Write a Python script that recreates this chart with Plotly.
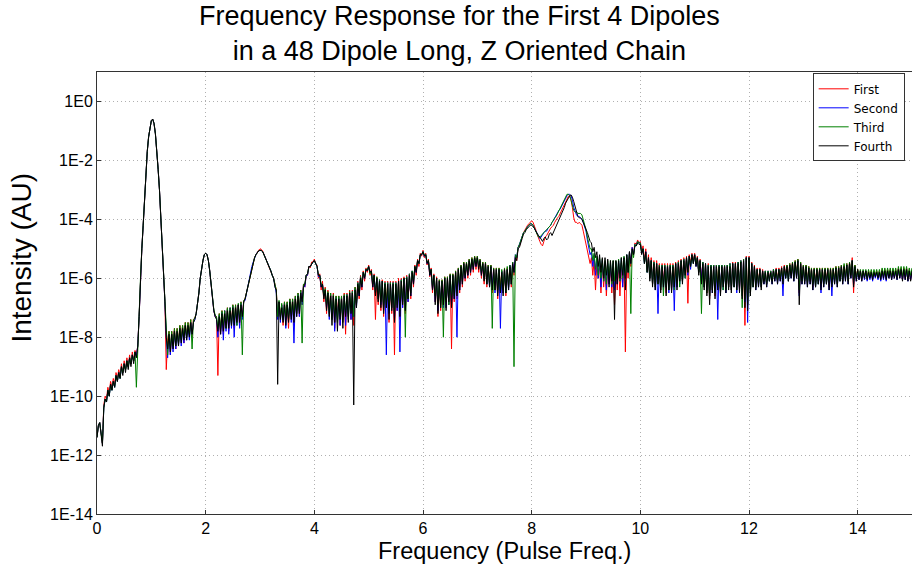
import numpy as np
import plotly.graph_objects as go

# Frequency axis (units of the pulse frequency), sampled every 0.025
freq = np.round(np.arange(0, 15.0001, 0.025), 3)

# log10 intensity for each of the first four dipoles (one line per unit of frequency)
first_log10 = [
    -11.4, -11.0, -10.9, -11.2, -11.6, -10.3, -10.0, -10.1, -9.7, -9.9, -9.5, -9.7, -9.4, -9.6, -9.2, -9.4, -9.1, -9.3, -8.9, -9.2, -8.8, -9.1, -8.7, -9.0, -8.6, -8.9, -8.5, -8.8, -8.45, -8.6, -8.3, -7.3, -6.0, -5.0, -4.2, -3.2, -2.3, -1.7, -1.2, -0.85,
    -0.65, -0.6, -0.75, -1.1, -1.6, -2.3, -3.0, -3.9, -4.8, -5.8, -6.8, -9.1, -8.1, -7.8, -8.6, -7.8, -8.3, -7.7, -8.4, -7.7, -8.2, -7.6, -8.0, -7.6, -8.2, -7.5, -8.0, -7.5, -7.9, -7.4, -8.0, -7.4, -7.35, -7.2, -6.9, -6.5, -6.0, -5.65, -5.4, -5.2,
    -5.15, -5.2, -5.4, -5.75, -6.2, -6.7, -7.1, -7.3, -7.3, -9.3, -7.2, -7.8, -7.1, -7.9, -7.1, -7.6, -7.0, -7.8, -7.0, -7.5, -6.9, -7.7, -6.9, -7.4, -6.9, -7.6, -6.8, -7.3, -6.8, -6.7, -6.5, -6.3, -6.1, -5.85, -5.6, -5.45, -5.3, -5.2, -5.1, -5.05,
    -5.0, -5.02, -5.08, -5.18, -5.3, -5.42, -5.55, -5.65, -5.75, -5.9, -6.0, -6.2, -6.4, -7.3, -6.8, -7.3, -6.9, -7.6, -6.8, -7.4, -6.8, -7.7, -6.7, -7.3, -6.7, -7.6, -6.6, -7.2, -6.5, -7.3, -6.4, -6.9, -6.2, -6.3, -5.9, -5.9, -5.6, -5.65, -5.45, -5.45,
    -5.35, -5.5, -5.55, -6.0, -5.85, -6.4, -6.1, -6.8, -6.3, -7.2, -6.4, -7.0, -6.5, -7.3, -6.5, -7.7, -6.6, -7.2, -6.6, -7.6, -6.6, -7.3, -6.5, -7.9, -6.5, -7.2, -6.4, -7.4, -6.4, -7.6, -6.3, -6.9, -6.1, -6.7, -5.9, -6.4, -5.75, -6.1, -5.65, -5.8,
    -5.55, -5.9, -5.7, -6.4, -5.85, -7.4, -5.95, -6.9, -6.05, -7.1, -6.05, -7.3, -6.1, -7.0, -6.1, -7.5, -6.1, -7.2, -6.1, -8.6, -6.1, -7.1, -6.0, -7.4, -6.0, -7.0, -5.95, -7.2, -5.9, -6.8, -5.85, -6.7, -5.75, -6.3, -5.55, -5.9, -5.35, -5.6, -5.15, -5.25,
    -5.05, -5.3, -5.15, -5.55, -5.35, -5.95, -5.65, -6.5, -5.85, -6.8, -5.95, -7.3, -6.05, -7.1, -6.05, -6.9, -5.95, -7.0, -5.95, -6.9, -5.85, -8.4, -5.85, -6.8, -5.75, -6.7, -5.65, -6.5, -5.55, -6.3, -5.45, -6.1, -5.45, -6.0, -5.35, -5.9, -5.3, -5.8, -5.25, -5.7,
    -5.25, -5.8, -5.35, -6.0, -5.45, -6.2, -5.45, -6.3, -5.55, -6.2, -5.55, -6.5, -5.65, -6.3, -5.65, -6.7, -5.65, -6.4, -5.75, -6.5, -5.65, -6.6, -5.65, -6.3, -5.55, -6.3, -5.45, -5.9, -5.25, -5.4, -4.95, -4.9, -4.7, -4.6, -4.45, -4.35, -4.25, -4.2, -4.15, -4.1,
    -4.05, -4.1, -4.2, -4.35, -4.5, -4.65, -4.75, -4.85, -4.9, -4.75, -4.6, -4.55, -4.45, -4.35, -4.3, -4.25, -4.2, -4.1, -4.0, -3.95, -3.9, -3.8, -3.7, -3.6, -3.5, -3.4, -3.3, -3.22, -3.2, -3.35, -3.6, -3.95, -4.1, -4.1, -4.15, -4.1, -4.15, -4.2, -4.4, -4.6,
    -4.8, -5.0, -5.2, -5.5, -5.3, -5.9, -5.4, -6.4, -5.5, -6.0, -5.5, -6.5, -5.5, -6.3, -5.6, -6.6, -5.6, -6.2, -5.6, -6.5, -5.6, -6.9, -5.6, -6.4, -5.5, -6.6, -5.5, -6.3, -5.4, -8.5, -5.3, -6.0, -5.1, -5.6, -4.95, -5.2, -4.8, -4.85, -4.7, -4.8,
    -4.75, -5.1, -4.9, -5.4, -5.0, -5.7, -5.2, -6.0, -5.3, -6.2, -5.4, -6.3, -5.4, -6.1, -5.5, -6.4, -5.5, -6.2, -5.5, -6.5, -5.5, -6.3, -5.5, -6.4, -5.5, -6.2, -5.45, -6.3, -5.4, -6.0, -5.35, -6.1, -5.3, -5.8, -5.25, -6.85, -5.2, -5.5, -5.15, -5.4,
    -5.15, -5.5, -5.25, -5.8, -5.35, -6.1, -5.45, -6.3, -5.5, -6.5, -5.5, -6.7, -5.55, -6.4, -5.55, -6.6, -5.55, -6.3, -5.55, -6.5, -5.55, -6.2, -5.55, -6.4, -5.55, -6.3, -5.5, -6.4, -5.45, -6.2, -5.45, -6.3, -5.45, -6.4, -5.4, -6.6, -5.35, -7.6, -5.25, -6.9,
    -5.25, -6.5, -5.45, -6.2, -5.55, -6.3, -5.65, -6.2, -5.65, -6.3, -5.7, -6.1, -5.75, -6.2, -5.75, -6.0, -5.75, -6.1, -5.7, -6.0, -5.65, -6.1, -5.65, -6.0, -5.6, -6.1, -5.55, -5.9, -5.55, -6.0, -5.5, -5.9, -5.45, -6.0, -5.4, -5.9, -5.35, -6.5, -5.45, -6.1,
    -5.55, -6.1, -5.55, -6.2, -5.6, -6.1, -5.65, -6.3, -5.65, -6.2, -5.65, -6.1, -5.65, -6.3, -5.65, -6.2, -5.65, -6.1, -5.65, -6.3, -5.65, -6.2, -5.65, -6.1, -5.6, -6.2, -5.6, -6.0, -5.55, -6.1, -5.55, -6.0, -5.5, -6.1, -5.45, -5.9, -5.3, -6.5, -5.55, -6.0,
    -5.7, -6.0, -5.75, -6.05, -5.75, -5.95, -5.75, -6.0, -5.75, -5.95, -5.75, -6.0, -5.75, -5.9, -5.75, -5.95, -5.75, -6.0, -5.7, -5.95, -5.7, -6.0, -5.7, -5.95, -5.7, -6.0, -5.7, -5.95, -5.7, -6.0, -5.65, -5.95, -5.65, -6.05, -5.65, -6.0, -5.65, -6.05, -5.7, -6.05,
    -5.7,
]

second_log10 = [
    -11.4, -11.0, -10.9, -11.3, -11.6, -10.4, -10.1, -10.2, -9.8, -10.0, -9.6, -9.8, -9.5, -9.7, -9.3, -9.5, -9.2, -9.4, -9.0, -9.2, -8.9, -9.1, -8.8, -9.0, -8.7, -8.9, -8.6, -8.8, -8.5, -8.65, -8.3, -7.3, -6.0, -5.0, -4.2, -3.2, -2.3, -1.7, -1.2, -0.85,
    -0.65, -0.6, -0.75, -1.1, -1.6, -2.3, -3.0, -3.9, -4.8, -5.8, -6.8, -8.0, -8.7, -7.9, -8.6, -7.9, -8.5, -7.8, -8.4, -7.8, -8.3, -7.7, -8.3, -7.7, -8.2, -7.6, -8.1, -7.6, -8.1, -7.5, -7.9, -7.5, -7.4, -7.2, -6.9, -6.5, -6.0, -5.65, -5.4, -5.2,
    -5.15, -5.2, -5.4, -5.75, -6.2, -6.7, -7.1, -7.3, -7.35, -8.0, -7.25, -7.9, -7.15, -8.1, -7.1, -7.8, -7.05, -7.9, -7.0, -7.7, -6.95, -8.0, -6.95, -7.6, -6.9, -7.7, -6.85, -7.4, -6.8, -6.75, -6.5, -6.3, -6.1, -5.85, -5.6, -5.45, -5.3, -5.2, -5.12, -5.07,
    -5.05, -5.06, -5.1, -5.2, -5.3, -5.42, -5.55, -5.65, -5.75, -5.9, -6.0, -6.25, -6.5, -7.4, -6.8, -7.5, -6.9, -7.4, -6.85, -7.7, -6.85, -7.4, -6.75, -7.5, -6.75, -8.2, -6.65, -7.3, -6.55, -7.3, -6.45, -6.9, -6.25, -6.3, -5.9, -5.9, -5.6, -5.6, -5.5, -5.45,
    -5.4, -5.5, -5.6, -5.95, -5.9, -6.3, -6.2, -6.6, -6.4, -7.0, -6.5, -7.4, -6.55, -7.4, -6.6, -7.8, -6.65, -7.4, -6.65, -7.6, -6.65, -7.4, -6.6, -7.6, -6.55, -7.3, -6.5, -7.4, -6.45, -7.3, -6.35, -7.0, -6.15, -6.6, -5.95, -6.3, -5.8, -6.0, -5.7, -5.75,
    -5.6, -5.8, -5.75, -6.3, -5.9, -6.5, -6.0, -6.7, -6.05, -6.9, -6.1, -7.1, -6.15, -8.6, -6.15, -7.2, -6.15, -7.0, -6.15, -7.4, -6.15, -7.1, -6.1, -8.5, -6.05, -7.0, -6.0, -7.0, -5.95, -6.8, -5.85, -6.6, -5.75, -6.2, -5.6, -5.8, -5.4, -5.5, -5.2, -5.2,
    -5.1, -5.25, -5.2, -5.5, -5.4, -5.9, -5.7, -6.4, -5.9, -6.8, -6.0, -7.1, -6.1, -6.9, -6.1, -7.0, -6.0, -7.0, -6.0, -6.9, -5.9, -6.9, -5.9, -6.7, -5.8, -8.0, -5.7, -6.4, -5.6, -6.2, -5.5, -6.0, -5.5, -5.9, -5.4, -5.8, -5.35, -5.7, -5.3, -5.6,
    -5.3, -5.6, -5.4, -5.9, -5.5, -6.0, -5.5, -6.2, -5.6, -6.3, -5.6, -6.3, -5.7, -6.5, -5.7, -6.5, -5.7, -7.7, -5.75, -6.5, -5.7, -6.4, -5.7, -6.4, -5.55, -6.2, -5.45, -5.8, -5.2, -5.3, -4.95, -4.85, -4.7, -4.6, -4.45, -4.4, -4.3, -4.25, -4.2, -4.15,
    -4.15, -4.2, -4.3, -4.4, -4.5, -4.6, -4.65, -4.6, -4.5, -4.45, -4.4, -4.4, -4.3, -4.25, -4.2, -4.1, -4.05, -3.95, -3.85, -3.8, -3.7, -3.65, -3.55, -3.45, -3.35, -3.25, -3.2, -3.15, -3.15, -3.2, -3.35, -3.6, -3.75, -3.85, -3.9, -3.9, -3.95, -4.0, -4.1, -4.25,
    -4.4, -4.7, -4.9, -5.2, -5.1, -5.6, -5.2, -5.9, -5.3, -6.0, -5.35, -6.3, -5.4, -6.1, -5.45, -6.4, -5.5, -6.2, -5.5, -6.3, -5.5, -6.4, -5.45, -6.2, -5.4, -6.1, -5.35, -6.3, -5.3, -6.0, -5.2, -5.8, -5.1, -5.5, -4.95, -5.2, -4.85, -4.9, -4.75, -4.8,
    -4.8, -5.15, -5.0, -5.5, -5.1, -5.8, -5.3, -6.0, -5.4, -6.2, -5.45, -6.4, -5.5, -7.2, -5.55, -6.3, -5.55, -6.4, -5.55, -6.3, -5.55, -6.5, -5.55, -6.4, -5.55, -7.1, -5.5, -6.3, -5.45, -6.2, -5.4, -6.1, -5.35, -6.0, -5.3, -5.9, -5.25, -5.7, -5.2, -5.5,
    -5.2, -5.6, -5.3, -5.8, -5.4, -6.1, -5.45, -6.3, -5.5, -6.4, -5.55, -6.6, -5.55, -6.5, -5.55, -6.5, -5.55, -7.4, -5.55, -6.4, -5.55, -6.4, -5.55, -6.5, -5.55, -6.3, -5.5, -6.4, -5.5, -6.3, -5.5, -6.5, -5.45, -6.4, -5.4, -6.6, -5.35, -6.8, -5.3, -7.5,
    -5.3, -6.5, -5.5, -6.3, -5.6, -6.4, -5.7, -6.3, -5.7, -6.3, -5.75, -6.2, -5.75, -6.3, -5.75, -6.1, -5.75, -6.2, -5.7, -6.1, -5.7, -6.2, -5.7, -6.1, -5.65, -6.6, -5.6, -6.0, -5.6, -6.1, -5.55, -6.0, -5.5, -6.1, -5.45, -6.0, -5.4, -6.6, -5.5, -6.2,
    -5.6, -6.2, -5.6, -6.3, -5.65, -6.2, -5.7, -6.4, -5.7, -6.3, -5.7, -6.2, -5.7, -6.5, -5.7, -6.3, -5.7, -6.2, -5.7, -6.4, -5.7, -6.6, -5.7, -6.2, -5.65, -6.3, -5.65, -6.1, -5.6, -6.2, -5.6, -6.1, -5.55, -6.2, -5.5, -6.0, -5.4, -6.2, -5.6, -6.1,
    -5.75, -6.05, -5.75, -6.1, -5.75, -6.05, -5.75, -6.1, -5.8, -6.05, -5.8, -6.1, -5.8, -6.0, -5.8, -6.05, -5.8, -6.1, -5.75, -6.05, -5.75, -6.1, -5.75, -6.0, -5.75, -6.05, -5.75, -6.0, -5.75, -6.05, -5.7, -6.0, -5.7, -6.05, -5.7, -6.05, -5.7, -6.1, -5.75, -6.05,
    -5.75,
]

third_log10 = [
    -11.4, -11.0, -10.9, -11.3, -11.6, -10.4, -10.1, -10.2, -9.8, -10.0, -9.6, -9.8, -9.5, -9.7, -9.3, -9.5, -9.2, -9.4, -9.0, -9.2, -8.9, -9.1, -8.8, -9.0, -8.7, -8.9, -8.6, -8.8, -8.5, -9.7, -8.3, -7.3, -6.0, -5.0, -4.2, -3.2, -2.3, -1.7, -1.2, -0.85,
    -0.65, -0.6, -0.75, -1.1, -1.6, -2.3, -3.0, -3.9, -4.8, -5.8, -6.8, -7.9, -8.6, -7.8, -8.4, -7.8, -8.3, -7.7, -8.3, -7.7, -8.2, -7.6, -8.1, -7.6, -8.0, -7.5, -8.0, -7.5, -7.9, -7.4, -8.4, -7.4, -7.35, -7.2, -6.9, -6.5, -6.0, -5.65, -5.4, -5.2,
    -5.15, -5.2, -5.4, -5.75, -6.2, -6.7, -7.05, -7.25, -7.3, -7.7, -7.2, -7.7, -7.1, -7.6, -7.1, -7.7, -7.0, -7.5, -7.0, -7.6, -6.9, -7.5, -6.9, -7.6, -6.85, -7.4, -6.8, -8.6, -6.75, -6.7, -6.5, -6.3, -6.1, -5.85, -5.6, -5.45, -5.3, -5.2, -5.12, -5.07,
    -5.05, -5.06, -5.1, -5.2, -5.3, -5.42, -5.55, -5.65, -5.75, -5.9, -6.0, -6.2, -6.4, -7.3, -6.75, -7.3, -6.85, -7.4, -6.8, -7.3, -6.8, -7.4, -6.7, -7.2, -6.7, -7.3, -6.6, -7.2, -6.5, -7.1, -6.4, -8.2, -6.2, -6.2, -5.9, -5.85, -5.6, -5.6, -5.5, -5.45,
    -5.4, -5.5, -5.6, -5.9, -5.9, -6.2, -6.2, -6.6, -6.35, -6.9, -6.45, -7.2, -6.5, -7.4, -6.55, -7.3, -6.6, -7.5, -6.6, -7.2, -6.6, -7.5, -6.55, -7.2, -6.55, -7.4, -6.45, -7.1, -6.45, -7.3, -6.3, -6.9, -6.15, -6.5, -5.95, -6.2, -5.8, -5.95, -5.7, -5.7,
    -5.6, -5.85, -5.75, -6.2, -5.9, -6.5, -5.95, -6.7, -6.05, -6.8, -6.1, -7.0, -6.15, -6.9, -6.15, -7.1, -6.15, -7.0, -6.15, -7.2, -6.15, -6.9, -6.1, -7.1, -6.05, -6.8, -6.0, -8.0, -5.95, -6.7, -5.85, -6.5, -5.75, -6.1, -5.6, -5.7, -5.4, -5.5, -5.2, -5.2,
    -5.1, -5.2, -5.2, -5.45, -5.4, -5.8, -5.7, -6.3, -5.9, -6.6, -6.0, -6.9, -6.05, -7.0, -6.05, -8.0, -5.95, -6.8, -5.95, -6.9, -5.85, -6.7, -5.85, -6.6, -5.75, -6.5, -5.65, -6.3, -5.55, -6.1, -5.45, -5.9, -5.45, -5.8, -5.35, -5.7, -5.3, -5.6, -5.25, -5.5,
    -5.25, -5.6, -5.35, -5.8, -5.45, -6.0, -5.45, -6.2, -5.55, -6.2, -5.55, -7.7, -5.65, -6.4, -5.65, -6.4, -5.65, -6.5, -5.7, -6.4, -5.65, -6.5, -5.6, -6.3, -5.55, -6.2, -5.45, -9.0, -5.2, -5.3, -4.95, -4.85, -4.7, -4.6, -4.45, -4.4, -4.3, -4.25, -4.2, -4.15,
    -4.15, -4.2, -4.3, -4.4, -4.5, -4.6, -4.6, -4.55, -4.5, -4.45, -4.4, -4.35, -4.3, -4.25, -4.2, -4.1, -4.0, -3.95, -3.9, -3.8, -3.7, -3.6, -3.5, -3.4, -3.3, -3.2, -3.15, -3.15, -3.2, -3.35, -3.55, -3.7, -3.75, -3.75, -3.8, -3.8, -3.8, -3.85, -4.0, -4.2,
    -4.35, -4.6, -4.8, -5.0, -5.0, -5.4, -5.15, -5.7, -5.25, -5.9, -5.3, -6.0, -5.35, -6.1, -5.4, -6.2, -5.4, -6.0, -5.4, -6.2, -5.4, -6.1, -5.4, -6.0, -5.35, -6.1, -5.3, -6.0, -5.25, -5.9, -5.2, -5.8, -5.1, -7.2, -5.0, -5.3, -4.85, -4.9, -4.75, -4.8,
    -4.8, -5.1, -5.0, -5.5, -5.15, -5.8, -5.3, -6.0, -5.4, -6.2, -5.45, -6.3, -5.5, -6.2, -5.55, -6.4, -5.55, -6.6, -5.55, -6.3, -5.55, -6.4, -5.55, -6.3, -5.55, -6.4, -5.5, -6.2, -5.45, -6.3, -5.4, -6.1, -5.35, -6.0, -5.3, -5.8, -5.25, -5.6, -5.2, -5.5,
    -5.2, -5.5, -5.3, -5.8, -5.4, -7.2, -5.45, -6.3, -5.5, -6.5, -5.55, -6.6, -5.55, -6.4, -5.55, -6.5, -5.55, -6.3, -5.55, -6.5, -5.55, -6.4, -5.55, -6.4, -5.55, -6.3, -5.5, -6.4, -5.5, -6.3, -5.5, -6.4, -5.45, -6.3, -5.4, -7.0, -5.35, -6.7, -5.3, -6.9,
    -5.3, -6.6, -5.5, -6.3, -5.6, -6.3, -5.7, -6.2, -5.7, -6.3, -5.75, -6.1, -5.75, -6.2, -5.75, -6.1, -5.75, -6.1, -5.7, -6.0, -5.7, -6.1, -5.7, -6.0, -5.65, -6.1, -5.6, -6.0, -5.55, -6.1, -5.5, -5.9, -5.45, -6.0, -5.4, -5.9, -5.35, -6.4, -5.45, -6.1,
    -5.55, -6.1, -5.55, -6.2, -5.6, -6.1, -5.65, -6.2, -5.65, -6.3, -5.65, -6.2, -5.65, -6.1, -5.65, -6.2, -5.65, -6.2, -5.65, -6.1, -5.65, -6.2, -5.65, -6.1, -5.6, -6.2, -5.6, -6.1, -5.55, -6.1, -5.5, -6.0, -5.5, -6.1, -5.45, -5.9, -5.4, -6.1, -5.55, -6.0,
    -5.7, -5.95, -5.7, -6.0, -5.7, -5.95, -5.7, -6.0, -5.7, -5.95, -5.7, -5.95, -5.7, -5.9, -5.7, -5.95, -5.7, -5.95, -5.65, -5.9, -5.65, -5.95, -5.65, -5.9, -5.65, -5.95, -5.65, -5.9, -5.65, -5.95, -5.6, -5.9, -5.6, -5.95, -5.6, -5.9, -5.6, -5.95, -5.65, -5.9,
    -5.65,
]

fourth_log10 = [
    -11.4, -11.0, -10.9, -11.3, -11.7, -10.4, -10.1, -10.2, -9.8, -10.0, -9.6, -9.8, -9.5, -9.7, -9.3, -9.5, -9.2, -9.4, -9.0, -9.3, -8.9, -9.2, -8.8, -9.1, -8.7, -9.0, -8.6, -8.9, -8.5, -8.7, -8.3, -7.3, -6.0, -5.0, -4.2, -3.2, -2.3, -1.7, -1.2, -0.85,
    -0.65, -0.6, -0.75, -1.1, -1.6, -2.3, -3.0, -3.9, -4.8, -5.8, -6.8, -8.0, -8.4, -7.9, -8.5, -7.9, -8.4, -7.8, -8.3, -7.8, -8.3, -7.7, -8.2, -7.7, -8.1, -7.6, -8.1, -7.6, -8.0, -7.5, -7.9, -7.5, -7.4, -7.2, -6.9, -6.5, -6.0, -5.65, -5.4, -5.2,
    -5.15, -5.2, -5.4, -5.75, -6.2, -6.7, -7.1, -7.3, -7.4, -7.8, -7.3, -7.9, -7.2, -7.8, -7.2, -7.7, -7.1, -7.7, -7.1, -7.6, -7.0, -7.6, -7.0, -7.5, -6.9, -7.5, -6.9, -7.3, -6.8, -6.7, -6.5, -6.3, -6.1, -5.85, -5.6, -5.45, -5.3, -5.2, -5.12, -5.07,
    -5.05, -5.06, -5.1, -5.2, -5.3, -5.42, -5.55, -5.65, -5.75, -5.9, -6.0, -6.3, -6.4, -9.6, -6.8, -7.4, -7.0, -7.5, -6.9, -7.6, -6.9, -7.5, -6.8, -7.4, -6.8, -7.5, -6.7, -7.3, -6.6, -7.2, -6.5, -6.8, -6.3, -6.2, -5.9, -5.85, -5.6, -5.6, -5.5, -5.45,
    -5.4, -5.5, -5.6, -5.9, -5.9, -6.3, -6.2, -6.7, -6.4, -7.1, -6.5, -7.3, -6.6, -7.6, -6.6, -7.5, -6.7, -7.8, -6.7, -7.4, -6.7, -7.7, -6.6, -7.3, -6.6, -7.5, -6.5, -7.2, -6.5, -10.3, -6.4, -7.0, -6.2, -6.6, -6.0, -6.3, -5.8, -6.0, -5.7, -5.75,
    -5.6, -5.8, -5.75, -6.3, -5.9, -6.6, -6.0, -6.8, -6.1, -7.0, -6.1, -7.2, -6.2, -7.0, -6.2, -7.4, -6.2, -7.1, -6.2, -7.5, -6.2, -7.0, -6.1, -7.3, -6.1, -6.9, -6.0, -7.1, -6.0, -6.7, -5.9, -6.6, -5.8, -6.2, -5.6, -5.8, -5.4, -5.5, -5.2, -5.2,
    -5.1, -5.25, -5.2, -5.5, -5.4, -5.9, -5.7, -6.4, -5.9, -6.9, -6.0, -7.2, -6.1, -7.0, -6.1, -6.9, -6.0, -7.1, -6.0, -6.8, -5.9, -7.0, -5.9, -6.7, -5.8, -6.6, -5.7, -6.4, -5.6, -6.2, -5.5, -6.0, -5.5, -5.9, -5.4, -5.8, -5.35, -5.7, -5.3, -5.6,
    -5.3, -5.7, -5.4, -5.9, -5.5, -6.1, -5.5, -6.2, -5.6, -6.3, -5.6, -6.4, -5.7, -6.4, -5.7, -6.6, -5.7, -6.5, -5.8, -6.6, -5.7, -6.5, -5.7, -6.4, -5.6, -6.2, -5.5, -5.8, -5.3, -5.4, -5.0, -4.95, -4.75, -4.65, -4.5, -4.45, -4.35, -4.3, -4.25, -4.2,
    -4.2, -4.25, -4.3, -4.4, -4.5, -4.55, -4.6, -4.7, -4.75, -4.65, -4.6, -4.7, -4.65, -4.5, -4.45, -4.55, -4.45, -4.3, -4.2, -4.15, -4.05, -3.95, -3.85, -3.7, -3.6, -3.45, -3.35, -3.25, -3.2, -3.17, -3.25, -3.4, -3.55, -3.75, -3.9, -3.95, -3.95, -4.0, -4.1, -4.2,
    -4.3, -4.45, -4.6, -4.75, -4.8, -5.1, -4.95, -5.3, -5.1, -5.6, -5.2, -5.8, -5.3, -6.0, -5.3, -5.9, -5.35, -6.3, -5.4, -6.1, -5.4, -7.4, -5.4, -6.2, -5.4, -6.0, -5.3, -5.9, -5.3, -6.4, -5.2, -5.8, -5.1, -5.5, -5.0, -5.2, -4.9, -4.9, -4.8, -4.85,
    -4.85, -5.2, -5.0, -5.5, -5.1, -5.8, -5.3, -6.1, -5.4, -6.3, -5.5, -6.4, -5.5, -6.2, -5.6, -6.5, -5.6, -6.3, -5.6, -6.6, -5.6, -6.4, -5.6, -6.5, -5.6, -6.3, -5.5, -6.4, -5.5, -6.1, -5.4, -6.2, -5.4, -5.9, -5.3, -5.8, -5.25, -5.6, -5.2, -5.5,
    -5.2, -5.6, -5.3, -5.9, -5.4, -6.2, -5.5, -6.4, -5.5, -6.6, -5.6, -6.9, -5.6, -6.5, -5.6, -6.7, -5.6, -6.4, -5.6, -6.6, -5.6, -6.3, -5.6, -6.5, -5.6, -6.4, -5.6, -6.5, -5.5, -6.3, -5.5, -6.4, -5.5, -6.5, -5.45, -6.7, -5.4, -7.0, -5.3, -7.1,
    -5.3, -6.6, -5.5, -6.3, -5.6, -6.4, -5.7, -6.3, -5.7, -6.4, -5.75, -6.2, -5.8, -6.3, -5.8, -6.1, -5.8, -6.2, -5.75, -6.1, -5.7, -6.2, -5.7, -6.1, -5.65, -6.2, -5.6, -6.0, -5.6, -6.1, -5.55, -6.0, -5.5, -6.1, -5.45, -6.0, -5.4, -6.9, -5.5, -6.2,
    -5.6, -6.2, -5.6, -6.3, -5.65, -6.2, -5.7, -6.4, -5.7, -6.3, -5.7, -6.2, -5.7, -6.4, -5.7, -6.3, -5.7, -6.2, -5.7, -6.4, -5.7, -6.3, -5.7, -6.2, -5.65, -6.3, -5.65, -6.1, -5.6, -6.2, -5.6, -6.1, -5.55, -6.2, -5.5, -6.0, -5.4, -6.3, -5.6, -6.1,
    -5.7, -6.05, -5.75, -6.1, -5.75, -6.0, -5.75, -6.05, -5.8, -6.0, -5.8, -6.05, -5.8, -5.95, -5.8, -6.0, -5.8, -6.05, -5.75, -6.0, -5.75, -6.05, -5.75, -6.0, -5.75, -6.05, -5.75, -6.0, -5.75, -6.05, -5.7, -6.0, -5.7, -6.1, -5.7, -6.05, -5.7, -6.1, -5.75, -6.1,
    -5.75,
]

series_names = ["First", "Second", "Third", "Fourth"]
series_colors = ["#ff0000", "#0000ff", "#008000", "#000000"]
series_log10 = [first_log10, second_log10, third_log10, fourth_log10]

for logs in series_log10:
    assert len(logs) == len(freq), (len(logs), len(freq))

y_tick_exponents = [0, -2, -4, -6, -8, -10, -12, -14]
y_tick_labels = ["1E0", "1E-2", "1E-4", "1E-6", "1E-8", "1E-10", "1E-12", "1E-14"]
x_tick_values = [0, 2, 4, 6, 8, 10, 12, 14]

FONT = "Liberation Sans, Arial, sans-serif"
LEGEND_FONT = "DejaVu Sans, Verdana, sans-serif"

fig = go.Figure()
for name, color, logs in zip(series_names, series_colors, series_log10):
    intensity = np.power(10.0, np.array(logs))
    fig.add_trace(go.Scatter(
        x=freq, y=intensity, mode="lines", name=name,
        line=dict(color=color, width=1),
    ))

axis_common = dict(
    showline=True, linecolor="#333333", linewidth=1, mirror=True,
    ticks="inside", ticklen=4, tickcolor="#333333",
    showgrid=True, gridcolor="#b0b0b0", griddash="1px,3px", gridwidth=1,
    zeroline=False, tickfont=dict(family=FONT, size=16, color="#000000"),
)

fig.update_layout(
    width=912, height=564,
    margin=dict(l=97, r=0, t=72, b=50),
    paper_bgcolor="white", plot_bgcolor="white",
    font=dict(family=FONT, color="#000000"),
    xaxis=dict(range=[0, 15], tickvals=x_tick_values, **axis_common),
    yaxis=dict(type="log", range=[-14, 1],
               tickvals=[10.0 ** e for e in y_tick_exponents],
               ticktext=y_tick_labels, **axis_common),
    showlegend=True,
    legend=dict(
        x=0.991, y=0.997, xanchor="right", yanchor="top",
        bgcolor="white", bordercolor="#333333", borderwidth=1,
        font=dict(family=LEGEND_FONT, size=12, color="#000000"),
        tracegroupgap=0, itemwidth=30,
    ),
    annotations=[
        dict(text="Frequency Response for the First 4 Dipoles<br>in a 48 Dipole Long, Z Oriented Chain",
             xref="paper", yref="paper", x=0.445, y=1.0, yshift=73,
             xanchor="center", yanchor="top", showarrow=False,
             font=dict(family=FONT, size=27, color="#000000")),
        dict(text="Frequency (Pulse Freq.)", xref="paper", yref="paper",
             x=0.5, y=0, yshift=-22, xanchor="center", yanchor="top",
             showarrow=False, font=dict(family=FONT, size=23.5, color="#000000")),
        dict(text="Intensity (AU)", xref="paper", yref="paper",
             x=0, xshift=-58, y=0.579, xanchor="right", yanchor="middle",
             textangle=-90, showarrow=False,
             font=dict(family=FONT, size=28, color="#000000")),
    ],
)

fig.write_html("out.html")
